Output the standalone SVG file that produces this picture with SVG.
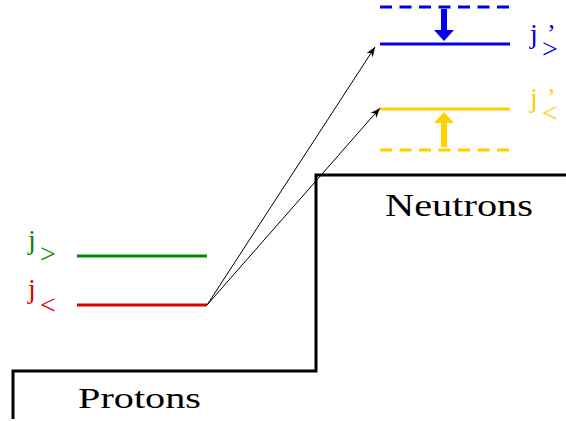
<svg xmlns="http://www.w3.org/2000/svg" width="566" height="421" viewBox="0 0 566 421">
<style>
.t{font-family:"Liberation Serif","Times New Roman",serif;}
.j{font-size:28px;}
.p{font-size:26px;}
.sub{font-size:28px;}
.lvl{stroke-width:3;fill:none;}
.dash{stroke-dasharray:12 7.5;}
.conn{stroke:#000;stroke-width:1;fill:none;}
</style>
<defs>
<marker id="ah" viewBox="0 0 10 10" refX="10" refY="5" markerWidth="10" markerHeight="10" markerUnits="userSpaceOnUse" orient="auto">
<path d="M0,1.2 L10,5 L0,8.8 L3,5 Z" fill="#000"/>
</marker>
</defs>
<rect width="566" height="421" fill="#fff"/>
<g id="well">
<polyline points="13,419 13,371 316,371 316,175 566,175" fill="none" stroke="#000" stroke-width="3"/>
<text class="t" x="385" y="216" font-size="31" textLength="148" lengthAdjust="spacingAndGlyphs">Neutrons</text>
<text class="t" x="78" y="408" font-size="30" textLength="123" lengthAdjust="spacingAndGlyphs">Protons</text>
</g>
<g id="proton-j-greater">
<line class="lvl" x1="77" y1="256" x2="207" y2="256" stroke="#008800"/>
<text class="t j" x="28" y="249" fill="#008800">j</text>
<text class="t sub" x="40" y="263" fill="#008800">&gt;</text>
</g>
<g id="proton-j-less">
<line class="lvl" x1="77" y1="305" x2="207" y2="305" stroke="#dd0000"/>
<text class="t j" x="28" y="298" fill="#dd0000">j</text>
<text class="t sub" x="40" y="314" fill="#dd0000">&lt;</text>
</g>
<g id="neutron-j-greater">
<line class="lvl dash" x1="380" y1="7" x2="510" y2="7" stroke="#0000ee"/>
<line class="lvl" x1="380" y1="44" x2="510" y2="44" stroke="#0000ee"/>
<text class="t j" x="530" y="43" fill="#0000ee">j</text>
<text class="t p" x="547" y="42" fill="#0000ee">’</text>
<text class="t sub" x="542" y="58" fill="#0000ee">&gt;</text>
<line x1="444" y1="9" x2="444" y2="31" stroke="#0000ee" stroke-width="6"/>
<polygon points="434,30 454,30 444,41" fill="#0000ee"/>
</g>
<g id="neutron-j-less">
<line class="lvl" x1="380" y1="109" x2="510" y2="109" stroke="#ffd000"/>
<line class="lvl dash" x1="380" y1="150" x2="510" y2="150" stroke="#ffd000"/>
<text class="t j" x="530" y="107" fill="#ffd000">j</text>
<text class="t p" x="547" y="106" fill="#ffd000">’</text>
<text class="t sub" x="542" y="122" fill="#ffd000">&lt;</text>
<line x1="444" y1="147" x2="444" y2="122" stroke="#ffd000" stroke-width="6"/>
<polygon points="434,123 454,123 444,112" fill="#ffd000"/>
</g>
<g id="connectors">
<line class="conn" x1="207" y1="305" x2="375" y2="47" marker-end="url(#ah)"/>
<line class="conn" x1="207" y1="305" x2="380" y2="108" marker-end="url(#ah)"/>
</g>
</svg>
